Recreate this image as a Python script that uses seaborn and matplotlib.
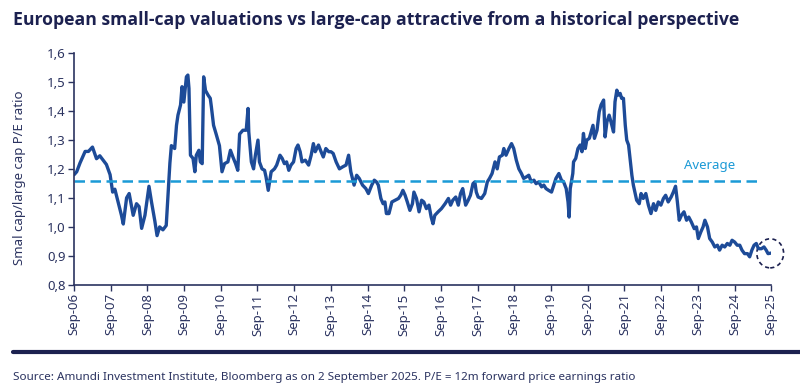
import matplotlib
matplotlib.use("Agg")
import matplotlib.pyplot as plt
import seaborn as sns
import pandas as pd
from matplotlib.patches import Ellipse
from matplotlib.lines import Line2D

# values (decimal year, small/large P/E ratio)
years = [
    2006.67, 2006.74, 2006.83, 2006.97, 2007.06, 2007.17, 2007.28, 2007.37, 2007.46, 2007.55,
    2007.65, 2007.72, 2007.78, 2007.87, 2007.96, 2008.01, 2008.10, 2008.17, 2008.23, 2008.28,
    2008.37, 2008.44, 2008.51, 2008.60, 2008.71, 2008.78, 2008.87, 2008.93, 2009.00, 2009.09,
    2009.18, 2009.23, 2009.28, 2009.32, 2009.41, 2009.46, 2009.50, 2009.57, 2009.61, 2009.66,
    2009.73, 2009.77, 2009.80, 2009.84, 2009.91, 2009.96, 2010.00, 2010.07, 2010.11, 2010.16,
    2010.20, 2010.25, 2010.32, 2010.38, 2010.41, 2010.47, 2010.54, 2010.63, 2010.70, 2010.77,
    2010.86, 2010.93, 2011.00, 2011.07, 2011.13, 2011.18, 2011.27, 2011.36, 2011.41, 2011.43,
    2011.50, 2011.56, 2011.61, 2011.68, 2011.72, 2011.79, 2011.86, 2011.90, 2011.96, 2012.04,
    2012.13, 2012.19, 2012.28, 2012.34, 2012.40, 2012.46, 2012.52, 2012.58, 2012.65, 2012.72,
    2012.77, 2012.83, 2012.88, 2012.97, 2013.06, 2013.13, 2013.19, 2013.24, 2013.33, 2013.40,
    2013.46, 2013.53, 2013.61, 2013.67, 2013.73, 2013.81, 2013.90, 2013.99, 2014.08, 2014.15,
    2014.21, 2014.30, 2014.37, 2014.44, 2014.53, 2014.62, 2014.69, 2014.78, 2014.85, 2014.91,
    2014.96, 2015.03, 2015.09, 2015.14, 2015.18, 2015.25, 2015.33, 2015.42, 2015.51, 2015.57,
    2015.63, 2015.69, 2015.75, 2015.82, 2015.89, 2015.93, 2016.00, 2016.07, 2016.14, 2016.20,
    2016.27, 2016.34, 2016.40, 2016.45, 2016.50, 2016.59, 2016.68, 2016.78, 2016.87, 2016.93,
    2016.99, 2017.07, 2017.14, 2017.20, 2017.26, 2017.34, 2017.41, 2017.47, 2017.54, 2017.59,
    2017.63, 2017.68, 2017.77, 2017.86, 2017.93, 2017.99, 2018.06, 2018.14, 2018.20, 2018.26,
    2018.34, 2018.38, 2018.44, 2018.52, 2018.59, 2018.65, 2018.72, 2018.79, 2018.86, 2018.92,
    2018.99, 2019.06, 2019.13, 2019.20, 2019.26, 2019.33, 2019.41, 2019.47, 2019.53, 2019.60,
    2019.68, 2019.74, 2019.80, 2019.88, 2019.95, 2020.01, 2020.08, 2020.13, 2020.16, 2020.19,
    2020.26, 2020.28, 2020.34, 2020.40, 2020.46, 2020.51, 2020.55, 2020.60, 2020.64, 2020.71,
    2020.76, 2020.81, 2020.85, 2020.92, 2020.98, 2021.03, 2021.10, 2021.14, 2021.19, 2021.25,
    2021.30, 2021.37, 2021.41, 2021.46, 2021.50, 2021.55, 2021.59, 2021.64, 2021.69, 2021.73,
    2021.78, 2021.82, 2021.87, 2021.91, 2021.96, 2022.00, 2022.07, 2022.12, 2022.18, 2022.25,
    2022.32, 2022.39, 2022.46, 2022.52, 2022.59, 2022.66, 2022.73, 2022.79, 2022.86, 2022.94,
    2023.00, 2023.06, 2023.11, 2023.16, 2023.22, 2023.29, 2023.36, 2023.42, 2023.49, 2023.57,
    2023.63, 2023.68, 2023.75, 2023.81, 2023.86, 2023.93, 2023.99, 2024.06, 2024.13, 2024.20,
    2024.26, 2024.33, 2024.40, 2024.47, 2024.54, 2024.60, 2024.67, 2024.74, 2024.81, 2024.87,
    2024.94, 2025.02, 2025.08, 2025.14, 2025.20, 2025.26, 2025.32, 2025.40, 2025.47, 2025.53,
    2025.58, 2025.67,
]
ratio = [
    1.18, 1.19, 1.22, 1.26, 1.26, 1.275, 1.235, 1.245, 1.23, 1.215,
    1.18, 1.12, 1.13, 1.085, 1.04, 1.01, 1.10, 1.115, 1.075, 1.04,
    1.08, 1.07, 0.995, 1.04, 1.14, 1.085, 1.02, 0.97, 1.00, 0.99,
    1.005, 1.11, 1.22, 1.28, 1.27, 1.35, 1.385, 1.42, 1.483, 1.43,
    1.517, 1.523, 1.477, 1.247, 1.236, 1.19, 1.247, 1.264, 1.224, 1.218,
    1.517, 1.47, 1.454, 1.443, 1.414, 1.35, 1.32, 1.28, 1.19, 1.218,
    1.224, 1.264, 1.24, 1.218, 1.195, 1.32, 1.333, 1.333, 1.408, 1.327,
    1.224, 1.20, 1.247, 1.299, 1.224, 1.20, 1.195, 1.172, 1.126, 1.19,
    1.20, 1.213, 1.247, 1.236, 1.218, 1.224, 1.195, 1.213, 1.224, 1.27,
    1.282, 1.259, 1.224, 1.23, 1.213, 1.247, 1.287, 1.259, 1.282, 1.259,
    1.241, 1.27, 1.259, 1.259, 1.253, 1.224, 1.20, 1.207, 1.213, 1.247,
    1.19, 1.144, 1.178, 1.167, 1.144, 1.132, 1.115, 1.144, 1.161, 1.155,
    1.144, 1.098, 1.08, 1.086, 1.046, 1.046, 1.086, 1.092, 1.098, 1.109,
    1.126, 1.109, 1.086, 1.057, 1.08, 1.12, 1.098, 1.052, 1.092, 1.086,
    1.063, 1.075, 1.034, 1.011, 1.04, 1.052, 1.063, 1.08, 1.098, 1.075,
    1.092, 1.103, 1.075, 1.115, 1.132, 1.075, 1.092, 1.109, 1.149, 1.155,
    1.12, 1.103, 1.098, 1.115, 1.155, 1.167, 1.184, 1.224, 1.20, 1.241,
    1.247, 1.27, 1.247, 1.27, 1.287, 1.27, 1.23, 1.20, 1.184, 1.167,
    1.172, 1.178, 1.155, 1.161, 1.149, 1.155, 1.138, 1.144, 1.132, 1.126,
    1.12, 1.144, 1.167, 1.184, 1.161, 1.155, 1.132, 1.086, 1.034, 1.132,
    1.184, 1.224, 1.236, 1.27, 1.282, 1.259, 1.322, 1.27, 1.299, 1.305,
    1.327, 1.35, 1.305, 1.333, 1.397, 1.42, 1.437, 1.31, 1.362, 1.385,
    1.362, 1.327, 1.431, 1.471, 1.454, 1.46, 1.443, 1.443, 1.35, 1.299,
    1.282, 1.236, 1.178, 1.144, 1.115, 1.092, 1.08, 1.115, 1.098, 1.115,
    1.075, 1.046, 1.08, 1.057, 1.086, 1.075, 1.098, 1.109, 1.086, 1.103,
    1.12, 1.14, 1.086, 1.023, 1.04, 1.052, 1.023, 1.034, 1.017, 0.994,
    1.00, 0.96, 0.983, 1.00, 1.023, 1.00, 0.96, 0.948, 0.931, 0.937,
    0.92, 0.937, 0.931, 0.943, 0.937, 0.954, 0.948, 0.937, 0.937, 0.92,
    0.908, 0.908, 0.897, 0.92, 0.937, 0.943, 0.925, 0.925, 0.931, 0.92,
    0.908, 0.91,
]
average_value = 1.158
x_tick_labels = ["Sep-%02d" % y for y in range(6, 26)]
y_ticks = [0.8, 0.9, 1.0, 1.1, 1.2, 1.3, 1.4, 1.5, 1.6]
y_tick_labels = ["0,8", "0,9", "1,0", "1,1", "1,2", "1,3", "1,4", "1,5", "1,6"]

navy = "#1c2150"
line_blue = "#1d4b98"
avg_blue = "#1b9ad6"
tick_col = "#2b3360"

sns.set_style("white")
plt.rcParams["font.family"] = ["Noto Sans", "DejaVu Sans"]

df = pd.DataFrame({"year": years, "ratio": ratio})

fig = plt.figure(figsize=(8, 3.92), dpi=100)
ax = fig.add_axes([0.0925, 0.273, 0.8715, 0.5925])

sns.lineplot(data=df, x="year", y="ratio", ax=ax, color=line_blue, linewidth=2.4)

start = 2006 + 8 / 12
ax.plot([start, 2025.38], [average_value, average_value], color=avg_blue,
        linewidth=1.8, linestyle=(0, (4.2, 2.2)))
ax.text(2023.98, 1.213, "Average", color=avg_blue, fontsize=9.5, ha="center", va="center")

ax.add_patch(Ellipse((2025.64, 0.909), 0.73, 0.10, fill=False, edgecolor=navy,
                     linewidth=1.2, linestyle=(0, (2.5, 2)), clip_on=False))

xt = [start + i for i in range(len(x_tick_labels))]
ax.set_xlim(start, start + 19)
ax.set_ylim(0.8, 1.6)
ax.set_xticks(xt)
ax.set_xticklabels(x_tick_labels, rotation=90, fontsize=9.5, color=tick_col)
ax.set_yticks(y_ticks)
ax.set_yticklabels(y_tick_labels, fontsize=9.5, color=tick_col)
ax.set_xlabel("")
ax.set_ylabel("Smal cap/large cap P/E ratio", fontsize=9.5, color=tick_col)
ax.yaxis.set_label_coords(-0.069, 0.46)

for side in ["top", "right"]:
    ax.spines[side].set_visible(False)
for side in ["left", "bottom"]:
    ax.spines[side].set_color(tick_col)
    ax.spines[side].set_linewidth(1.2)
ax.tick_params(axis="both", which="both", direction="out", length=4, width=1.0,
               color=tick_col, left=True, bottom=True, pad=2)

fig.text(0.016, 0.948, "European small-cap valuations vs large-cap attractive from a historical perspective",
         fontsize=12.7, fontweight="bold", family=["Open Sans", "DejaVu Sans"],
         color=navy, ha="left", va="center")

fig.add_artist(Line2D([0.016, 1.0], [0.102, 0.102], color=navy, linewidth=3.0))

fig.text(0.016, 0.038, "Source: Amundi Investment Institute, Bloomberg as on 2 September 2025. "
         "P/E = 12m forward price earnings ratio", fontsize=8.4, color=tick_col, ha="left", va="center")

fig.savefig("out.png", dpi=100)
